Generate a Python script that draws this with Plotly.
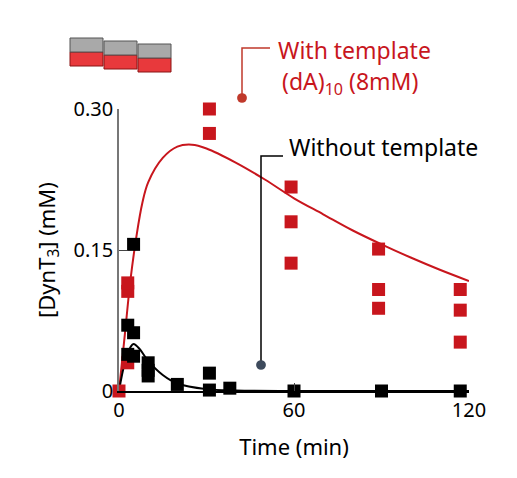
import plotly.graph_objects as go

# measured points
red_t = [0, 3, 3, 3, 31, 31, 59, 59, 59, 89, 89, 89, 117, 117, 117]
red_y = [0, 0.106, 0.115, 0.03, 0.30, 0.274, 0.217, 0.18, 0.136, 0.151, 0.108, 0.088, 0.108, 0.086, 0.052]
black_t = [3, 3, 5, 5, 5, 10, 10, 10, 20, 31, 31, 38, 60, 90, 117]
black_y = [0.07, 0.039, 0.156, 0.062, 0.037, 0.03, 0.022, 0.016, 0.007, 0.019, 0.001, 0.003, 0, 0, 0]

# fitted curves
red_fit_t = [0, 2, 4, 6, 8, 10, 15, 20, 25, 30, 40, 50, 60, 70, 80, 90, 100, 110, 120]
red_fit_y = [0, 0.06, 0.12, 0.165, 0.2, 0.222, 0.248, 0.26, 0.262, 0.258, 0.243, 0.225, 0.205,
             0.188, 0.171, 0.156, 0.142, 0.129, 0.117]
black_fit_t = [0, 2, 4, 5, 7, 10, 15, 20, 30, 40, 60, 90, 120]
black_fit_y = [0, 0.03, 0.047, 0.05, 0.045, 0.032, 0.017, 0.008, 0.002, 0.0005, 0, 0, 0]

RED = "#c8161d"
W, H = 517, 478
L, R, T, B = 111, 461, 101, 383


def px(x, y):
    return (x - L) / (R - L), (B - y) / (B - T)


fig = go.Figure()
fig.add_trace(go.Scatter(x=red_fit_t, y=red_fit_y, mode="lines", line=dict(color=RED, width=2, shape="spline"),
                         showlegend=False))
fig.add_trace(go.Scatter(x=black_fit_t, y=black_fit_y, mode="lines", line=dict(color="black", width=2, shape="spline"),
                         showlegend=False))
fig.add_trace(go.Scatter(x=red_t, y=red_y, mode="markers", cliponaxis=False,
                         marker=dict(symbol="square", size=13, color=RED), showlegend=False))
fig.add_trace(go.Scatter(x=black_t, y=black_y, mode="markers", cliponaxis=False,
                         marker=dict(symbol="square", size=13, color="black"), showlegend=False))

shapes = []
# leader line for "With template"
x0, y0 = px(234, 90)
x1, y1 = px(234, 40)
x2, _ = px(262, 40)
shapes.append(dict(type="path", xref="paper", yref="paper",
                   path=f"M{x0},{y0} L{x1},{y1} L{x2},{y1}", line=dict(color="#c0392b", width=1.5)))
shapes.append(dict(type="circle", xref="paper", yref="paper", x0=x0 - 0.014, x1=x0 + 0.014,
                   y0=y0 - 0.017, y1=y0 + 0.017, fillcolor="#c0392b", line_width=0))
# leader line for "Without template"
x0, y0 = px(253, 357)
x1, y1 = px(253, 148)
x2, _ = px(275, 148)
shapes.append(dict(type="path", xref="paper", yref="paper",
                   path=f"M{x0},{y0} L{x1},{y1} L{x2},{y1}", line=dict(color="black", width=1.5)))
shapes.append(dict(type="circle", xref="paper", yref="paper", x0=x0 - 0.014, x1=x0 + 0.014,
                   y0=y0 - 0.017, y1=y0 + 0.017, fillcolor="#3d4a5c", line_width=0))
# small block icon
for i in range(3):
    bx = 62 + i * 34
    by = 30 + i * 3
    a, b_ = px(bx, by + 14)
    c, d = px(bx + 33, by + 28)
    shapes.append(dict(type="rect", xref="paper", yref="paper", x0=a, x1=c, y0=b_, y1=d,
                       fillcolor="#e8393c", line=dict(color="#8a1515", width=1)))
    a, b_ = px(bx, by)
    c, d = px(bx + 33, by + 14)
    shapes.append(dict(type="rect", xref="paper", yref="paper", x0=a, x1=c, y0=b_, y1=d,
                       fillcolor="#a9a9a9", line=dict(color="#555", width=1)))

ann = []
ax, ay = px(268, 42)
ann.append(dict(xref="paper", yref="paper", x=ax, y=ay, xanchor="left", yanchor="middle", showarrow=False,
                text="With template", font=dict(size=23, color=RED)))
ax, ay = px(272, 74)
ann.append(dict(xref="paper", yref="paper", x=ax, y=ay, xanchor="left", yanchor="middle", showarrow=False,
                text="(dA)<sub>10</sub> (8mM)", font=dict(size=23, color=RED)))
ax, ay = px(279, 139)
ann.append(dict(xref="paper", yref="paper", x=ax, y=ay, xanchor="left", yanchor="middle", showarrow=False,
                text="Without template", font=dict(size=23, color="black")))

fig.update_layout(
    width=W, height=H, margin=dict(l=L, r=W - R, t=T, b=H - B, autoexpand=False),
    plot_bgcolor="white", paper_bgcolor="white",
    font=dict(family="Noto Sans", size=20, color="black"),
    shapes=shapes, annotations=ann,
    xaxis=dict(range=[0, 120], tickvals=[0, 60, 120], ticks="inside", ticklen=8, showgrid=False,
               zeroline=False, showline=True, linecolor="black", linewidth=1.5, automargin=False,
               title=dict(text="Time (min)", font=dict(size=22), standoff=18)),
    yaxis=dict(range=[0, 0.30], tickvals=[0, 0.15, 0.30], ticktext=["0", "0.15", "0.30"], ticks="inside",
               ticklen=8, showgrid=False, zeroline=False, showline=True, linecolor="#777", linewidth=1.5,
               automargin=False,
               title=dict(text="[DynT<sub>3</sub>] (mM)", font=dict(size=22), standoff=12)),
)
fig.write_html("out.html")
